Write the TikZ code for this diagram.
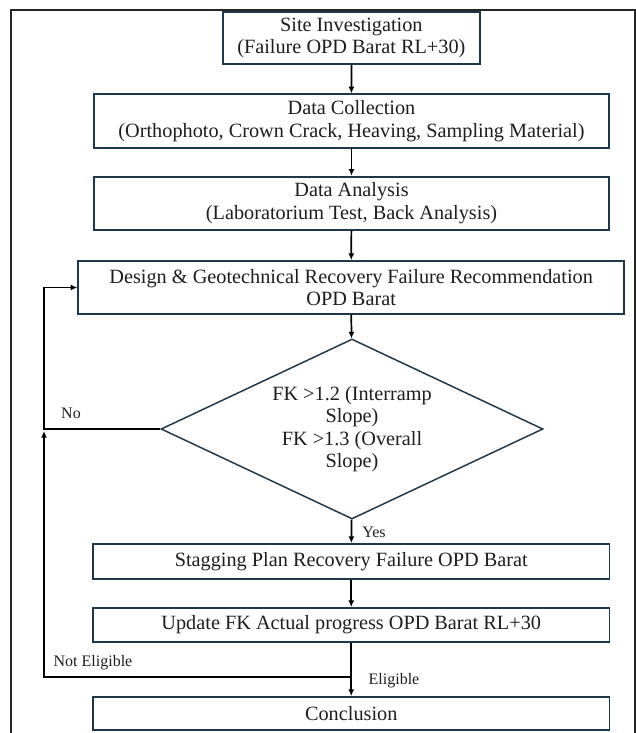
\documentclass[tikz,border=0pt]{standalone}
\usepackage{fontspec}
\setmainfont{Liberation Serif}
\usetikzlibrary{arrows.meta,shapes.geometric}
\definecolor{boxc}{RGB}{31,56,72}
\definecolor{txt}{RGB}{30,30,30}
\begin{document}
\begin{tikzpicture}[x=0.75pt,y=-0.75pt,
 box/.style={draw=boxc,line width=1.4pt,rectangle,inner sep=0pt,align=center,text=txt,font=\fontsize{15.2}{16.9}\selectfont},
 dia/.style={draw=boxc,line width=1.1pt,diamond,aspect=2.12,inner sep=0pt,align=center,text=txt,minimum width=286.5pt,minimum height=135pt,font=\fontsize{15.2}{16.9}\selectfont},
 arr/.style={line width=1.3pt,line join=miter,-{Latex[length=5pt,width=4.5pt]}},
 lnk/.style={line width=1.3pt},
 lbl/.style={text=txt,font=\fontsize{12}{14}\selectfont,inner sep=0pt}]
\useasboundingbox (0,0) rectangle (636,733);
\fill[white] (0,0) rectangle (636,733);
\draw[line width=1.2pt,color=black!85] (11,733) -- (11,10) -- (635,10) -- (635,733);

\node[box,minimum width=193pt,minimum height=39.45pt] (site) at (351.35,38) {Site Investigation\\(Failure OPD Barat RL+30)};
\node[box,minimum width=386.7pt,minimum height=40pt] (dc) at (351.5,121) {Data Collection\\(Orthophoto, Crown Crack, Heaving, Sampling Material)};
\node[box,minimum width=386.7pt,minimum height=40pt] (da) at (351.5,203.35) {Data Analysis\\(Laboratorium Test, Back Analysis)};
\node[box,minimum width=409.3pt,minimum height=39.75pt] (design) at (351.15,287.5) {Design \& Geotechnical Recovery Failure Recommendation\\OPD Barat};
\node[dia] (fk) at (352,429) {FK >1.2 (Interramp\\Slope)\\FK >1.3 (Overall\\Slope)};
\node[box,minimum width=387.4pt,minimum height=26.25pt] (stag) at (351.25,561.5) {Stagging Plan Recovery Failure OPD Barat};
\node[box,minimum width=387.4pt,minimum height=25.5pt] (upd) at (351.25,625) {Update FK Actual progress OPD Barat RL+30};
\node[box,minimum width=387.4pt,minimum height=24.75pt] (concl) at (351.25,713.5) {Conclusion};

\draw[arr] (site) -- (dc);
\draw[arr] (dc) -- (da);
\draw[arr] (da) -- (design);
\draw[arr] (design) -- (fk);
\draw[arr] (fk) -- (stag);
\draw[arr] (stag) -- (upd);

\coordinate (nol) at (44,429);
\coordinate (noup) at (44,287.5);
\draw[arr] (fk.west) -- (nol) -- (noup) -- (design.west);

\coordinate (j) at (351.25,677);
\coordinate (nel) at (44,677);
\coordinate (neup) at (44,431);
\draw[lnk] (upd.south) -- (j);
\draw[arr] (j) -- (concl.north);
\draw[arr] (j) -- (nel) -- (neup);

\node[lbl] (lno) at (71,413) {No};
\node[lbl] (lyes) at (374,532) {Yes};
\node[lbl] (lne) at (93,663) {Not Eligible};
\node[lbl] (lel) at (394,681) {Eligible};
\end{tikzpicture}
\end{document}
